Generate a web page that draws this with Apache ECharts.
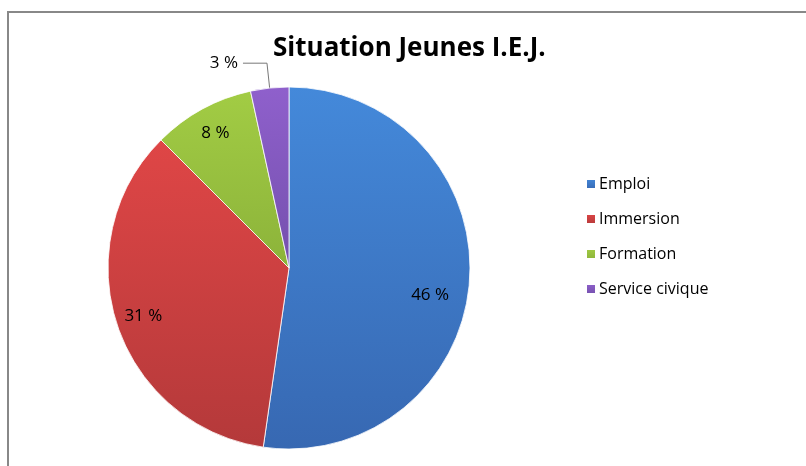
<!DOCTYPE html>
<html>
<head>
<meta charset="utf-8">
<script src="https://cdn.jsdelivr.net/npm/echarts@6/dist/echarts.min.js"></script>
<style>
  html, body { margin: 0; padding: 0; background: #fff; }
  #main { width: 806px; height: 466px; }
</style>
</head>
<body>
<div id="main"></div>
<script>
var myChart = echarts.init(document.getElementById('main'));

var categories = ['Emploi', 'Immersion', 'Formation', 'Service civique'];
var values = [46, 31, 8, 3];
var colors = [
    ['#4489da', '#3768b2'],
    ['#df4646', '#b4393a'],
    ['#a2cc44', '#8cb33a'],
    ['#8f60cc', '#7450ad']
];

function grad(c) {
    return new echarts.graphic.LinearGradient(0, 0, 0, 1, [
        { offset: 0, color: c[0] },
        { offset: 1, color: c[1] }
    ]);
}

var pieData = categories.map(function (name, i) {
    return { name: name, value: values[i], itemStyle: { color: grad(colors[i]) } };
});

// second ring, only used to put the labels near the rim
var labelData = categories.map(function (name, i) {
    var d = { name: name, value: values[i] };
    if (i === 0) {
        d.label = { offset: [-12, 16] };
    }
    if (i === 3) {
        d.label = { position: 'outside', color: '#000' };
        d.labelLine = { show: true };
    }
    return d;
});

var option = {
    backgroundColor: '#fff',
    animation: false,
    color: colors.map(function (c) { return c[0]; }),
    title: {
        text: 'Situation Jeunes I.E.J.',
        left: 268,
        top: 31,
        textStyle: {
            fontFamily: 'Open Sans',
            fontWeight: 'bold',
            fontSize: 26,
            color: '#000'
        }
    },
    legend: {
        data: categories,
        orient: 'vertical',
        left: 580,
        top: 171,
        itemWidth: 10,
        itemHeight: 10,
        itemGap: 19,
        icon: 'rect',
        textStyle: {
            fontFamily: 'Open Sans',
            fontSize: 16,
            color: '#000',
            padding: [0, 0, 0, -2]
        }
    },
    graphic: [{
        type: 'rect',
        shape: { x: 8, y: 12, width: 900, height: 600 },
        style: { fill: 'none', stroke: '#888', lineWidth: 2 },
        silent: true
    }],
    series: [{
        type: 'pie',
        center: [289, 268],
        radius: [0, 181],
        startAngle: 90,
        clockwise: true,
        data: pieData,
        label: { show: false },
        labelLine: { show: false },
        itemStyle: { borderColor: '#fff', borderWidth: 0.8 },
        emphasis: { disabled: true }
    }, {
        type: 'pie',
        center: [289, 268],
        radius: [120, 181],
        startAngle: 90,
        clockwise: true,
        silent: true,
        data: labelData,
        itemStyle: { color: 'rgba(0,0,0,0)' },
        label: {
            show: true,
            position: 'inside',
            formatter: '{c} %',
            fontFamily: 'Open Sans',
            fontSize: 17,
            color: '#000'
        },
        labelLine: {
            show: false,
            length: 25,
            length2: 24,
            lineStyle: { color: '#777', width: 1 }
        },
        emphasis: { disabled: true }
    }]
};
myChart.setOption(option);
</script>
</body>
</html>
